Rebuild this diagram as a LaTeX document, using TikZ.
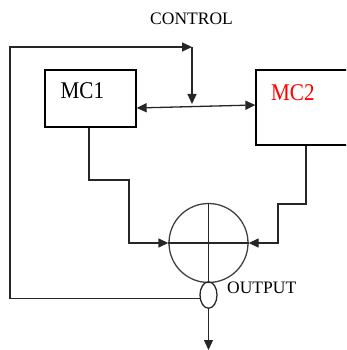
\documentclass[tikz,border=0pt]{standalone}
\usepackage{fontspec}
\setmainfont{Liberation Serif}
\usetikzlibrary{arrows.meta,shapes.geometric,calc}
\begin{document}
\begin{tikzpicture}[x=1pt,y=-1pt,
  wire/.style={draw=black!85,line width=1.3pt},
  tip/.style={-{Triangle[length=10pt,width=9pt]}},
  box/.style={draw=black,line width=1.3pt,rectangle,inner sep=0pt},
  lbl/.style={inner sep=0pt,anchor=base west,font=\fontsize{17.5}{19}\selectfont},
  big/.style={inner sep=0pt,anchor=base west,font=\fontsize{24}{26}\selectfont}]
\useasboundingbox (0,0) rectangle (346,350);
\clip (0,0) rectangle (346,350);
% boxes
\node[box,minimum width=91pt,minimum height=57pt] (mc1) at (90.5,98.5) {};
\node[box,minimum width=96pt,minimum height=75pt] (mc2) at (304,107.5) {};
\node[big] (t1) at (60.5,98.3) {\scalebox{0.88}[1]{MC1}};
\node[big,text=red] (t2) at (271,100.7) {\scalebox{0.88}[1]{MC2}};
% summing junction
\node[draw=black!75,line width=1.3pt,circle,minimum size=79pt,inner sep=0pt] (sum) at (208.5,243) {};
\draw[wire] (sum.north) -- (sum.south);
\draw[wire] (sum.west) -- (sum.east);
% output pickoff
\node[draw=black!85,line width=1.3pt,ellipse,minimum width=17pt,minimum height=26.5pt,inner sep=0pt] (ell) at (208.5,295) {};
\node[lbl] (out) at (227,293) {OUTPUT};
\node[lbl] (ctl) at (150,25) {CONTROL};
% coordinates
\coordinate (top) at (192,47);
\coordinate (jn) at (192,104);
\coordinate (bot) at (208.5,350);
% MC1 <-> MC2
\draw[wire,{Triangle[length=10pt,width=9pt]}-{Triangle[length=10pt,width=9pt]}] ([yshift=-9.5pt]mc1.east) -- ([yshift=2.5pt]mc2.west);
% feedback path
\draw[wire,tip] (ell.200) -| (10,47) -- (top);
\draw[wire,tip] (top) -- (jn);
% MC1 to summer
\draw[wire,tip] ([xshift=-1.5pt]mc1.south) |- (129,180) |- (sum.west);
% MC2 to summer
\draw[wire,tip] ([xshift=2pt]mc2.south) |- (278,204) |- (sum.east);
% output
\draw[wire,tip] (ell.south) -- (bot);
\end{tikzpicture}
\end{document}
